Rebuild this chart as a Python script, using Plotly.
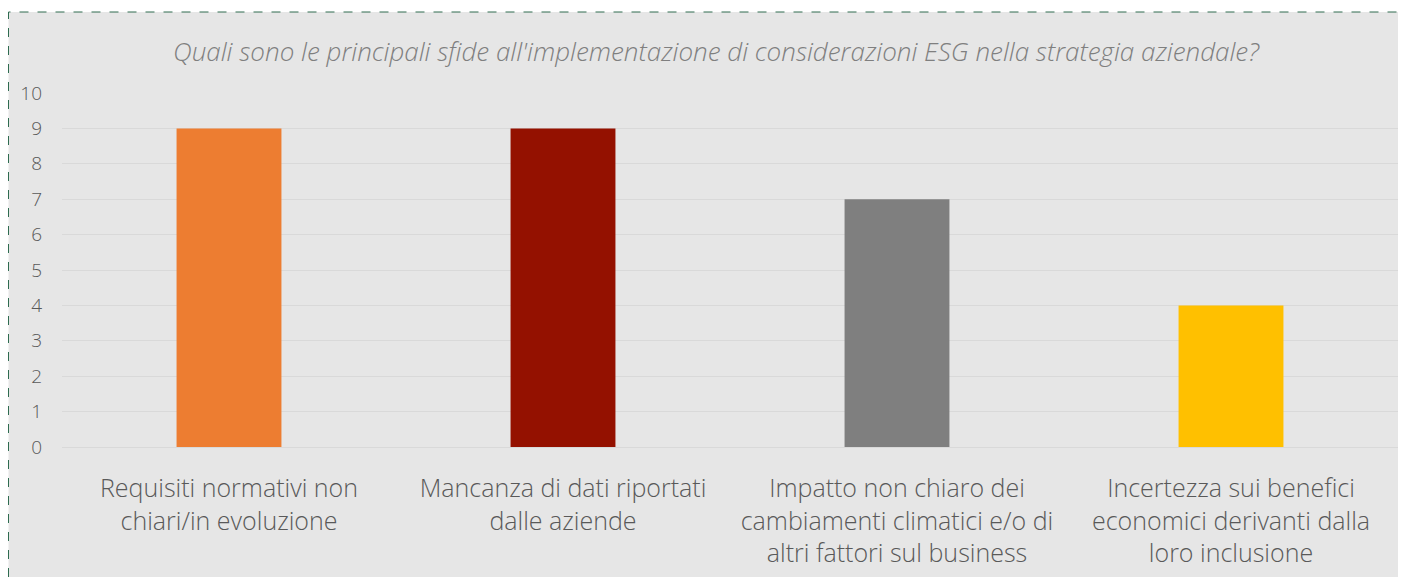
import plotly.graph_objects as go

# Dati del grafico
categorie = [
    "Requisiti normativi non<br>chiari/in evoluzione",
    "Mancanza di dati riportati<br>dalle aziende",
    "Impatto non chiaro dei<br>cambiamenti climatici e/o di<br>altri fattori sul business",
    "Incertezza sui benefici<br>economici derivanti dalla<br>loro inclusione",
]
valori = [9, 9, 7, 4]
colori = ["#ED7D31", "#941100", "#7F7F7F", "#FFC000"]
titolo = "Quali sono le principali sfide all'implementazione di considerazioni ESG nella strategia aziendale?"

# la pagina ha 8px di margine sul body: la figura parte da (8, 8)
W, H = 1390, 569
ML, MR, MT, MB = 54, 0, 85, 130
pw, ph = W - ML - MR, H - MT - MB

fig = go.Figure()
fig.add_trace(go.Bar(
    x=categorie, y=valori,
    marker=dict(color=colori, line=dict(width=0)),
    width=0.314,
    hoverinfo="x+y",
))

# cornice tratteggiata con sfondo grigio
fig.add_shape(
    type="rect", xref="paper", yref="paper", layer="below",
    x0=(0.5 - ML) / pw, x1=(W + 20 - ML) / pw,
    y0=(H - MB - H - 20) / ph, y1=(H - MB - 4) / ph,
    fillcolor="#E6E6E6",
    line=dict(color="#2E6B4F", width=1, dash="dash"),
)

gray_txt = "#595959"
fig.update_layout(
    width=W, height=H,
    margin=dict(l=ML, r=MR, t=MT, b=MB),
    paper_bgcolor="white",
    plot_bgcolor="rgba(0,0,0,0)",
    font=dict(family="Open Sans", color=gray_txt),
    title=dict(
        text=titolo, x=708 / W, xanchor="center", y=1 - 44 / H, yanchor="middle",
        font=dict(size=26, style="italic", weight=300, color="#7F7F7F"),
    ),
    showlegend=False,
)
fig.update_yaxes(
    range=[0, 10], dtick=1, showgrid=True, gridcolor="#D9D9D9", gridwidth=1,
    zeroline=True, zerolinecolor="#D9D9D9", zerolinewidth=1,
    tickfont=dict(size=19, color=gray_txt, weight=300), ticks="", ticklabelstandoff=19,
)
fig.update_xaxes(
    showgrid=False, showline=False, ticks="",
    tickfont=dict(size=25, color=gray_txt, weight=300), ticklabelstandoff=24,
    tickangle=0,
)

fig.write_html("out.html")
